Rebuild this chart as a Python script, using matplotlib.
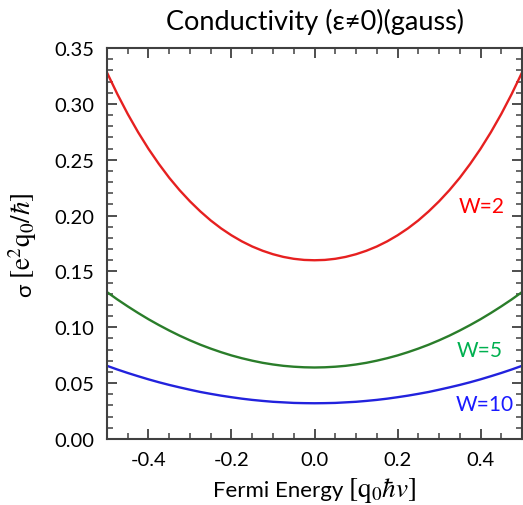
import matplotlib
matplotlib.use('Agg')
import matplotlib.pyplot as plt
from matplotlib.ticker import MultipleLocator
from matplotlib.transforms import IdentityTransform

plt.rcParams['font.family'] = ['Lato', 'DejaVu Sans']
plt.rcParams['mathtext.fontset'] = 'stix'

# Fermi energy grid and conductivity curves
energy = [-0.500, -0.475, -0.450, -0.425, -0.400, -0.375, -0.350, -0.325, -0.300, -0.275,
          -0.250, -0.225, -0.200, -0.175, -0.150, -0.125, -0.100, -0.075, -0.050, -0.025,
          0.000,
          0.025, 0.050, 0.075, 0.100, 0.125, 0.150, 0.175, 0.200, 0.225, 0.250,
          0.275, 0.300, 0.325, 0.350, 0.375, 0.400, 0.425, 0.450, 0.475, 0.500]
sigma_w2 = [0.3280, 0.3087, 0.2909, 0.2746, 0.2597, 0.2462, 0.2338, 0.2227, 0.2127, 0.2037,
            0.1956, 0.1885, 0.1823, 0.1769, 0.1723, 0.1685, 0.1654, 0.1630, 0.1613, 0.1603,
            0.1600,
            0.1603, 0.1613, 0.1630, 0.1654, 0.1685, 0.1723, 0.1769, 0.1823, 0.1885, 0.1956,
            0.2037, 0.2127, 0.2227, 0.2338, 0.2462, 0.2597, 0.2746, 0.2909, 0.3087, 0.3280]
sigma_w5 = [0.1315, 0.1249, 0.1187, 0.1128, 0.1072, 0.1020, 0.0971, 0.0925, 0.0883, 0.0844,
            0.0809, 0.0777, 0.0748, 0.0723, 0.0701, 0.0682, 0.0667, 0.0655, 0.0647, 0.0642,
            0.0640,
            0.0642, 0.0647, 0.0655, 0.0667, 0.0682, 0.0701, 0.0723, 0.0748, 0.0777, 0.0809,
            0.0844, 0.0883, 0.0925, 0.0971, 0.1020, 0.1072, 0.1128, 0.1187, 0.1249, 0.1315]
sigma_w10 = [0.0655, 0.0622, 0.0591, 0.0562, 0.0534, 0.0508, 0.0484, 0.0462, 0.0441, 0.0421,
             0.0404, 0.0388, 0.0374, 0.0361, 0.0350, 0.0341, 0.0333, 0.0328, 0.0323, 0.0321,
             0.0320,
             0.0321, 0.0323, 0.0328, 0.0333, 0.0341, 0.0350, 0.0361, 0.0374, 0.0388, 0.0404,
             0.0421, 0.0441, 0.0462, 0.0484, 0.0508, 0.0534, 0.0562, 0.0591, 0.0622, 0.0655]

W = 523
H = 506
fig = plt.figure(figsize=(W/100, H/100), dpi=100)
ax = fig.add_axes([107/W, 66/H, 415/W, 391/H])

ax.plot(energy, sigma_w2, color='#e62020', linewidth=1.7)
ax.plot(energy, sigma_w5, color='#2a7d2a', linewidth=1.7)
ax.plot(energy, sigma_w10, color='#2222dd', linewidth=1.7)

ax.text(0.404, 0.209, 'W=2', color='#ff0000', fontsize=15, ha='center', va='center')
ax.text(0.399, 0.080, 'W=5', color='#00b050', fontsize=15, ha='center', va='center')
ax.text(0.409, 0.031, 'W=10', color='#1a1aff', fontsize=15, ha='center', va='center')

ax.set_xlim(-0.5, 0.5)
ax.set_ylim(0, 0.35)
ax.xaxis.set_major_locator(MultipleLocator(0.2))
ax.xaxis.set_minor_locator(MultipleLocator(0.05))
ax.yaxis.set_major_locator(MultipleLocator(0.05))
ax.yaxis.set_minor_locator(MultipleLocator(0.01))
ax.xaxis.set_major_formatter(plt.FuncFormatter(lambda v, p: f'{v:.1f}'))
ax.yaxis.set_major_formatter(plt.FuncFormatter(lambda v, p: f'{v:.2f}'))
ax.tick_params(which='both', direction='in', top=True, right=True, colors='#404040',
               labelcolor='black', labelsize=14.5)
ax.tick_params(axis='y', which='major', pad=9)
ax.tick_params(axis='x', which='major', pad=9)
ax.tick_params(which='major', length=7, width=1.3)
ax.tick_params(which='minor', length=4, width=1.1)
for s in ax.spines.values():
    s.set_color('#404040')
    s.set_linewidth(1.5)

ax.set_title('Conductivity (ε≠0)(gauss)', fontsize=19.5, pad=14)

# axis labels: plain word part + larger math part, placed in pixels
px = IdentityTransform()
fig.canvas.draw()
r = fig.canvas.get_renderer()

a = fig.text(0, 0, 'Fermi Energy', fontsize=16, transform=px, va='baseline')
b = fig.text(0, 0, r'$[\mathrm{q}_0\hbar v]$', fontsize=19.5, transform=px, va='baseline')
wa = a.get_window_extent(r).width
wb = b.get_window_extent(r).width
gap = 5
x0 = 314.5 - (wa + gap + wb) / 2
a.set_position((x0, H - 497))
b.set_position((x0 + wa + gap, H - 497))

c = fig.text(0, 0, 'σ', fontsize=16, transform=px, rotation=90,
             rotation_mode='anchor', va='baseline', ha='left')
d = fig.text(0, 0, r'$[\mathrm{e}^2\mathrm{q}_0/\hbar]$', fontsize=19.5, transform=px,
             rotation=90, rotation_mode='anchor', va='baseline', ha='left')
hc = c.get_window_extent(r).height
hd = d.get_window_extent(r).height
y0 = (H - 244.5) - (hc + gap + hd) / 2
c.set_position((31, y0))
d.set_position((31, y0 + hc + gap))

fig.savefig('out.png', dpi=100)
